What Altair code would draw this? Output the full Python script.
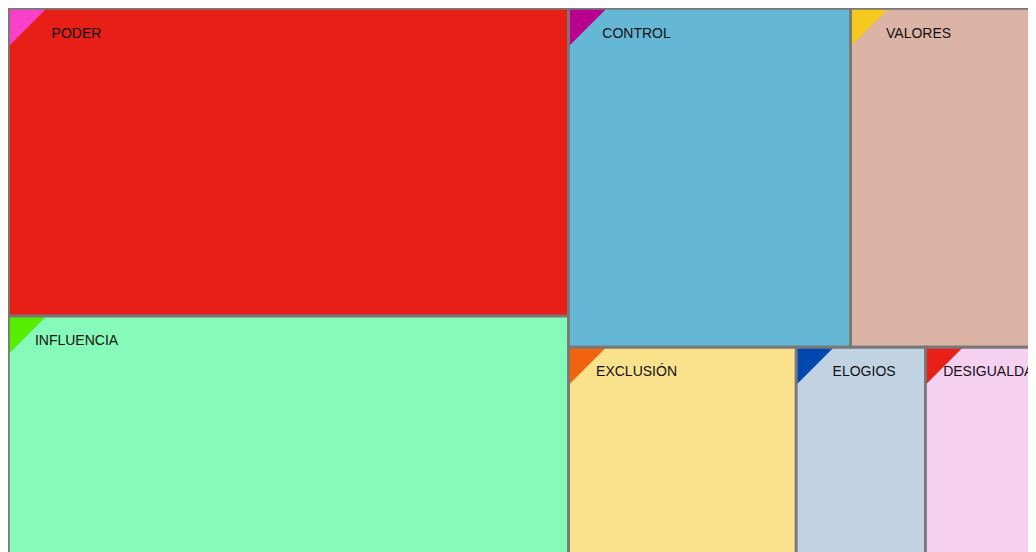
import altair as alt
import pandas as pd

# Categories and their values (areas, thousands of px^2)
names = ["PODER", "INFLUENCIA", "CONTROL", "VALORES", "EXCLUSIÓN", "ELOGIOS", "DESIGUALDAD"]
values = [172.2, 170.0, 95.5, 67.7, 62.0, 35.2, 34.1]
fills = ["#e81f16", "#86fab9", "#65b8d5", "#dbb4a6", "#fae28c", "#c1d3e3", "#f5d0f1"]
corners = ["#f940c8", "#55ee00", "#b9008f", "#f5c91e", "#f06410", "#0048b0", "#e82018"]
# layout structure: first group is the left column, the others are rows on the right
groups = [[0, 1], [2, 3], [4, 5, 6]]

W, H = 1042, 611  # full treemap size (extends past the window)

total = sum(values)
recs = []
g0 = sum(values[i] for i in groups[0])
col_w = W * g0 / total
yy = 0.0
for i in groups[0]:
    h = H * values[i] / g0
    recs.append((i, 0.0, col_w, yy, yy + h))
    yy += h
rest = total - g0
yy = 0.0
for g in groups[1:]:
    gs = sum(values[i] for i in g)
    h = H * gs / rest
    xx = col_w
    for i in g:
        w = (W - col_w) * values[i] / gs
        recs.append((i, xx, xx + w, yy, yy + h))
        xx += w
    yy += h

df = pd.DataFrame(
    [
        {"name": names[i], "value": values[i], "fill": fills[i], "corner": corners[i],
         "x0": a, "x1": b, "y0": c, "y1": d}
        for (i, a, b, c, d) in recs
    ]
)

PW, PH = 1020, 600
xs = alt.Scale(domain=[-0.5, PW - 0.5], nice=False, zero=False)
ys = alt.Scale(domain=[-0.5, PH - 0.5], nice=False, zero=False, reverse=True)
X = alt.X("x0:Q", scale=xs, axis=None)
Y = alt.Y("y0:Q", scale=ys, axis=None)

base = alt.Chart(df)

fill_layer = base.mark_rect(strokeWidth=0).encode(
    x=X, x2="x1:Q", y=Y, y2="y1:Q", color=alt.Color("fill:N", scale=None)
)

tri_layer = base.mark_point(
    shape="M-1,-1L1,-1L-1,1Z", filled=True, opacity=1, size=1444,
    strokeWidth=0, xOffset=19, yOffset=19,
).encode(x=X, y=Y, color=alt.Color("corner:N", scale=None))

stroke_layer = base.mark_rect(
    fillOpacity=0, stroke="#787878", strokeWidth=2.6
).encode(x=X, x2="x1:Q", y=Y, y2="y1:Q")

text_layer = base.mark_text(
    align="center", baseline="middle", dx=68, dy=25,
    fontSize=14, font="Liberation Sans", color="#111111",
).encode(x=X, y=Y, text="name:N")

chart = alt.layer(fill_layer, tri_layer, stroke_layer, text_layer).properties(
    width=PW, height=PH, padding=0, autosize=alt.AutoSizeParams(type="none")
).configure_view(stroke=None)

chart.save("out.html", embed_options={"renderer": "svg", "actions": False})
